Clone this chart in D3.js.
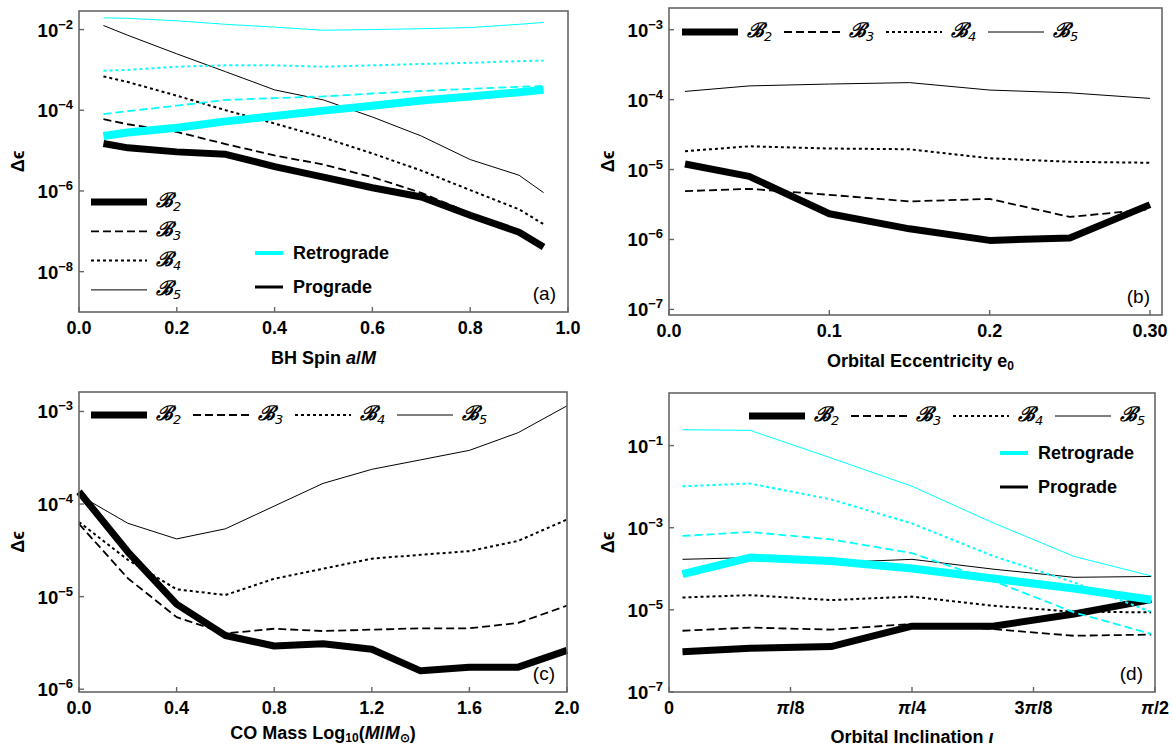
<!DOCTYPE html>
<html>
<head>
<meta charset="utf-8">
<script src="https://cdn.jsdelivr.net/npm/d3@7"></script>
<style>
body { margin: 0; background: #fff; }
text { font-family: "Liberation Sans", Arial, sans-serif; }
</style>
</head>
<body>
<svg id="chart" width="1173" height="749"></svg>
<script>
// ---- panel (a): BH spin ----
const spinX = [0.05, 0.1, 0.2, 0.3, 0.4, 0.5, 0.6, 0.7, 0.8, 0.9, 0.95];
const spinProB2 = [1.5e-5, 1.17e-5, 9.3e-6, 8.1e-6, 4.0e-6, 2.2e-6, 1.2e-6, 7.1e-7, 2.5e-7, 9.5e-8, 4.1e-8];
const spinProB3 = [6.0e-5, 4.5e-5, 2.9e-5, 1.45e-5, 7.6e-6, 4.5e-6, 2.2e-6, 9.0e-7, 2.8e-7, 1.0e-7, 4.3e-8];
const spinProB4 = [6.9e-4, 5.0e-4, 2.3e-4, 1.0e-4, 4.7e-5, 2.1e-5, 8.5e-6, 3.2e-6, 1.05e-6, 3.5e-7, 1.5e-7];
const spinProB5 = [1.26e-2, 7.2e-3, 2.5e-3, 9.0e-4, 3.2e-4, 1.8e-4, 6.8e-5, 2.3e-5, 6.0e-6, 2.45e-6, 9.1e-7];
const spinRetB2 = [2.3e-5, 2.8e-5, 3.7e-5, 5.3e-5, 7.2e-5, 9.8e-5, 1.3e-4, 1.75e-4, 2.2e-4, 2.8e-4, 3.2e-4];
const spinRetB3 = [8.0e-5, 9.5e-5, 1.3e-4, 1.8e-4, 2.0e-4, 2.2e-4, 2.6e-4, 3.0e-4, 3.4e-4, 3.8e-4, 4.0e-4];
const spinRetB4 = [9.5e-4, 1.0e-3, 1.2e-3, 1.3e-3, 1.3e-3, 1.2e-3, 1.3e-3, 1.4e-3, 1.5e-3, 1.65e-3, 1.7e-3];
const spinRetB5 = [1.95e-2, 1.9e-2, 1.65e-2, 1.35e-2, 1.15e-2, 9.6e-3, 1.0e-2, 1.05e-2, 1.12e-2, 1.35e-2, 1.5e-2];

// ---- panel (b): eccentricity ----
const eccX = [0.01, 0.05, 0.1, 0.15, 0.2, 0.25, 0.3];
const eccB2 = [1.2e-5, 8.0e-6, 2.33e-6, 1.42e-6, 9.7e-7, 1.05e-6, 3.15e-6];
const eccB3 = [4.9e-6, 5.3e-6, 4.35e-6, 3.5e-6, 3.8e-6, 2.1e-6, 2.7e-6];
const eccB4 = [1.83e-5, 2.15e-5, 2.0e-5, 1.95e-5, 1.45e-5, 1.29e-5, 1.25e-5];
const eccB5 = [1.31e-4, 1.57e-4, 1.67e-4, 1.75e-4, 1.37e-4, 1.25e-4, 1.04e-4];

// ---- panel (c): CO mass ----
const massX = [0, 0.2, 0.4, 0.6, 0.8, 1.0, 1.2, 1.4, 1.6, 1.8, 2.0];
const massB2 = [1.36e-4, 3.05e-5, 8.3e-6, 3.8e-6, 2.93e-6, 3.1e-6, 2.7e-6, 1.58e-6, 1.73e-6, 1.73e-6, 2.63e-6];
const massB3 = [6.1e-5, 1.58e-5, 6.0e-6, 4.0e-6, 4.5e-6, 4.25e-6, 4.4e-6, 4.55e-6, 4.55e-6, 5.2e-6, 8.0e-6];
const massB4 = [6.4e-5, 2.5e-5, 1.2e-5, 1.04e-5, 1.56e-5, 2.0e-5, 2.57e-5, 2.83e-5, 3.1e-5, 4.0e-5, 6.8e-5];
const massB5 = [1.25e-4, 6.2e-5, 4.2e-5, 5.4e-5, 9.5e-5, 1.67e-4, 2.37e-4, 3.0e-4, 3.8e-4, 5.9e-4, 1.15e-3];

// ---- panel (d): inclination (degrees) ----
const inclX = [2.5, 15, 30, 45, 60, 75, 89.3];
const inclProB2 = [9.5e-7, 1.16e-6, 1.28e-6, 4.0e-6, 4.0e-6, 7.9e-6, 1.77e-5];
const inclProB3 = [3.1e-6, 3.7e-6, 3.3e-6, 4.55e-6, 3.4e-6, 2.34e-6, 2.5e-6];
const inclProB4 = [2.0e-5, 2.28e-5, 1.73e-5, 2.1e-5, 1.26e-5, 9.0e-6, 8.7e-6];
const inclProB5 = [1.7e-4, 1.87e-4, 1.41e-4, 1.7e-4, 9.8e-5, 6.2e-5, 6.5e-5];
const inclRetB2 = [7.4e-5, 1.87e-4, 1.55e-4, 1.02e-4, 5.8e-5, 3.3e-5, 1.77e-5];
const inclRetB3 = [6.3e-4, 7.85e-4, 5.2e-4, 2.4e-4, 5.1e-5, 8.7e-6, 2.6e-6];
const inclRetB4 = [1.02e-2, 1.19e-2, 4.9e-3, 1.27e-3, 2.05e-4, 4.64e-5, 8.9e-6];
const inclRetB5 = [0.243, 0.235, 0.05, 1.02e-2, 1.32e-3, 2.0e-4, 6.7e-5];

const inclTicks = [0, 22.5, 45, 67.5, 90];
const inclTickLabels = [["0"], ["π", "/8"], ["π", "/4"], ["3", "π", "/8"], ["π", "/2"]];

const cyan = "#00ffff";
const bStyle = {
    B2: {w: 7, dash: null},
    B3: {w: 1.8, dash: "8,4"},
    B4: {w: 2, dash: "3,3"},
    B5: {w: 1, dash: null}
};

const svg = d3.select("#chart");

function addB(sel, n) {
    sel.append("tspan").attr("font-family", "DejaVu Serif").attr("font-style", "italic")
        .attr("font-weight", "bold").attr("font-size", 20).text("ℬ");
    sel.append("tspan").attr("font-size", 13).attr("dy", 4).attr("font-family", "DejaVu Sans")
        .attr("font-style", "italic").text(n);
}

function drawPanel(p) {
    let g = svg.append("g");
    let x = d3.scaleLinear().domain(p.xDomain).range([p.left, p.right]);
    let y = d3.scaleLog().domain(p.yDomain).range([p.bottom, p.top]);

    // data lines (black first, then cyan on top)
    let line = d3.line().x(d => x(d[0])).y(d => y(d[1]));
    p.series.forEach(s => {
        let st = bStyle[s.b];
        g.append("path")
            .datum(d3.zip(p.xs, s.ys))
            .attr("d", line)
            .attr("fill", "none")
            .attr("stroke", s.retro ? cyan : "#000")
            .attr("stroke-width", s.retro && s.b === "B2" ? 8 : st.w)
            .attr("stroke-dasharray", st.dash)
            .attr("stroke-linejoin", "round");
    });

    // frame
    g.append("rect")
        .attr("x", p.left).attr("y", p.top)
        .attr("width", p.right - p.left).attr("height", p.bottom - p.top)
        .attr("fill", "none").attr("stroke", "#666").attr("stroke-width", 1.6);

    // y ticks, pointing inward
    g.selectAll(".ytick").data(p.yTicks).join("line")
        .attr("x1", p.left).attr("x2", p.left + 5)
        .attr("y1", d => y(d)).attr("y2", d => y(d))
        .attr("stroke", "#666").attr("stroke-width", 1.4);
    let yl = g.selectAll(".ylab").data(p.yTicks).join("text")
        .attr("x", p.left - 6).attr("y", d => y(d) + 7)
        .attr("text-anchor", "end").attr("font-weight", "bold").attr("font-size", 18.5);
    yl.append("tspan").text("10");
    yl.append("tspan").attr("dy", -8).attr("font-size", 13).text(d => "−" + Math.round(-Math.log10(d)));

    // x ticks, pointing inward
    g.selectAll(".xtick").data(p.xTicks).join("line")
        .attr("x1", d => x(d)).attr("x2", d => x(d))
        .attr("y1", p.bottom).attr("y2", p.bottom - 5)
        .attr("stroke", "#666").attr("stroke-width", 1.4);
    let xl = g.selectAll(".xlab").data(p.xTicks).join("text")
        .attr("x", d => x(d)).attr("y", p.bottom + 22)
        .attr("text-anchor", "middle").attr("font-weight", "bold").attr("font-size", 18);
    if (p.xLabels) {
        xl.each(function (d, i) {
            let t = d3.select(this);
            p.xLabels[i].forEach(part => {
                t.append("tspan").attr("font-style", part === "π" ? "italic" : null).text(part);
            });
        });
    } else {
        xl.text(d => p.xFormat(d));
    }

    // axis titles
    let xt = g.append("text")
        .attr("x", (p.left + p.right) / 2 + p.titleDx).attr("y", p.bottom + p.titleDy)
        .attr("text-anchor", "middle").attr("font-weight", "bold").attr("font-size", 18);
    p.xTitle.forEach(part => {
        let ts = xt.append("tspan").text(part.t);
        if (part.it) ts.attr("font-style", "italic");
        if (part.sub) ts.attr("font-size", 12).attr("dy", 3);
        if (part.up) ts.attr("dy", -3);
    });
    g.append("text")
        .attr("transform", `translate(${p.left - 55},${(p.top + p.bottom) / 2}) rotate(-90)`)
        .attr("text-anchor", "middle").attr("font-weight", "bold").attr("font-size", 18)
        .text("Δϵ");

    g.append("text")
        .attr("x", p.right - 12).attr("y", p.bottom - 12)
        .attr("text-anchor", "end").attr("font-size", 19)
        .text(p.tag);

    // B legend
    let bl = g.selectAll(".bleg").data(["B2", "B3", "B4", "B5"]).join("g")
        .attr("transform", (d, i) => p.legVertical
            ? `translate(${p.legX},${p.legY + i * 29.3})`
            : `translate(${p.legX + i * 102},${p.legY})`);
    bl.append("line")
        .attr("x1", 0).attr("x2", 56).attr("y1", 0).attr("y2", 0)
        .attr("stroke", "#000")
        .attr("stroke-width", d => bStyle[d].w)
        .attr("stroke-dasharray", d => bStyle[d].dash);
    bl.append("text").attr("x", 65).attr("y", 5)
        .each(function (d) { addB(d3.select(this), d.slice(1)); });

    // retro / prograde legend
    if (p.rpX) {
        let rp = g.selectAll(".rpleg").data([["Retrograde", cyan, 4], ["Prograde", "#000", 3]]).join("g")
            .attr("transform", (d, i) => `translate(${p.rpX},${p.rpY + i * 34})`);
        rp.append("line").attr("x1", 0).attr("x2", 28)
            .attr("stroke", d => d[1]).attr("stroke-width", d => d[2]);
        rp.append("text").attr("x", 38).attr("y", 6)
            .attr("font-weight", "bold").attr("font-size", 18)
            .text(d => d[0]);
    }
}

function spinSeries() {
    return [
        {b: "B5", ys: spinProB5}, {b: "B4", ys: spinProB4}, {b: "B3", ys: spinProB3}, {b: "B2", ys: spinProB2},
        {b: "B5", ys: spinRetB5, retro: true}, {b: "B4", ys: spinRetB4, retro: true},
        {b: "B3", ys: spinRetB3, retro: true}, {b: "B2", ys: spinRetB2, retro: true}
    ];
}

drawPanel({
    left: 79, right: 568, top: 11, bottom: 312,
    xDomain: [0, 1], yDomain: [1e-9, Math.pow(10, -1.54)],
    xTicks: [0, 0.2, 0.4, 0.6, 0.8, 1.0], xFormat: d3.format(".1f"),
    yTicks: [1e-2, 1e-4, 1e-6, 1e-8],
    xs: spinX, series: spinSeries(),
    xTitle: [{t: "BH Spin "}, {t: "a", it: true}, {t: "/"}, {t: "M", it: true}], titleDx: 0, titleDy: 52,
    tag: "(a)",
    legVertical: true, legX: 91, legY: 202,
    rpX: 255, rpY: 253
});

drawPanel({
    left: 669, right: 1162, top: 8, bottom: 315,
    xDomain: [0, 0.3075], yDomain: [Math.pow(10, -7.08), Math.pow(10, -2.69)],
    xTicks: [0, 0.1, 0.2, 0.3], xFormat: d => d === 0.3 ? "0.30" : d3.format(".1f")(d),
    yTicks: [1e-3, 1e-4, 1e-5, 1e-6, 1e-7],
    xs: eccX,
    series: [{b: "B5", ys: eccB5}, {b: "B4", ys: eccB4}, {b: "B3", ys: eccB3}, {b: "B2", ys: eccB2}],
    xTitle: [{t: "Orbital Eccentricity e"}, {t: "0", sub: true}], titleDx: 5, titleDy: 52,
    tag: "(b)",
    legVertical: false, legX: 682, legY: 32
});

drawPanel({
    left: 79, right: 567, top: 392, bottom: 692,
    xDomain: [0, 2], yDomain: [Math.pow(10, -6.03), Math.pow(10, -2.79)],
    xTicks: [0, 0.4, 0.8, 1.2, 1.6, 2.0], xFormat: d3.format(".1f"),
    yTicks: [1e-3, 1e-4, 1e-5, 1e-6],
    xs: massX,
    series: [{b: "B5", ys: massB5}, {b: "B4", ys: massB4}, {b: "B3", ys: massB3}, {b: "B2", ys: massB2}],
    xTitle: [{t: "CO Mass Log"}, {t: "10", sub: true}, {t: "(", up: true}, {t: "M", it: true}, {t: "/"},
             {t: "M", it: true}, {t: "⊙", sub: true}, {t: ")", up: true}], titleDx: 0, titleDy: 47,
    tag: "(c)",
    legVertical: false, legX: 91, legY: 415
});

drawPanel({
    left: 669, right: 1155, top: 393, bottom: 692,
    xDomain: [0, 90], yDomain: [1e-7, Math.pow(10, 0.28)],
    xTicks: inclTicks, xLabels: inclTickLabels,
    yTicks: [1e-1, 1e-3, 1e-5, 1e-7],
    xs: inclX,
    series: [
        {b: "B5", ys: inclProB5}, {b: "B4", ys: inclProB4}, {b: "B3", ys: inclProB3}, {b: "B2", ys: inclProB2},
        {b: "B5", ys: inclRetB5, retro: true}, {b: "B4", ys: inclRetB4, retro: true},
        {b: "B3", ys: inclRetB3, retro: true}, {b: "B2", ys: inclRetB2, retro: true}
    ],
    xTitle: [{t: "Orbital Inclination "}, {t: "ι", it: true}], titleDx: 0, titleDy: 51,
    tag: "(d)",
    legVertical: false, legX: 749, legY: 416,
    rpX: 1000, rpY: 453
});
</script>
</body>
</html>
